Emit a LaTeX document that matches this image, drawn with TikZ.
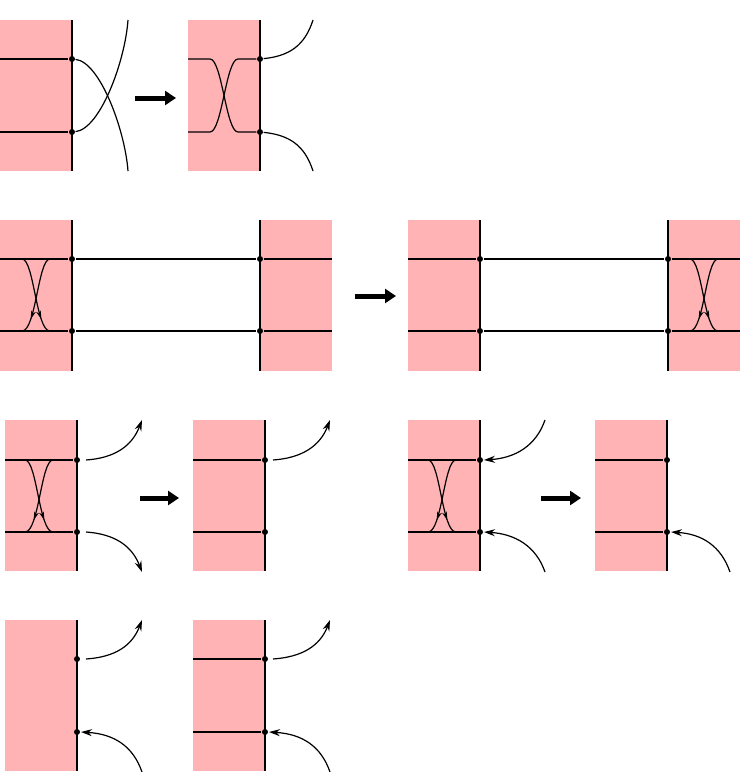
\documentclass[tikz,border=0pt]{standalone}
\usetikzlibrary{arrows.meta,decorations.markings}
\definecolor{strip}{RGB}{255,179,181}
\begin{document}
\begin{tikzpicture}[x=1pt,y=-1pt,line width=1.2pt]
\tikzstyle{band}=[fill=strip,draw=none]
\tikzstyle{dot}=[circle,fill=black,inner sep=0pt,minimum size=6pt]
\tikzstyle{move}=[-{Triangle[length=11pt,width=14pt]},line width=5pt]
\tikzstyle{tip}=[-{Stealth[length=11pt,width=7pt]}]
\tikzstyle{flow}=[postaction={decorate},decoration={markings,mark=at position 0.8 with {\arrow{Stealth[length=8pt,width=5pt]}}}]
\useasboundingbox (0,0) rectangle (748,772);
% row 1
\fill[band] (0,20) rectangle (72,171);
\draw (72,20) -- (72,171);
\node[dot] (a1) at (72,59) {};
\node[dot] (a2) at (72,132) {};
\draw (0,59) -- (a1); \draw (0,132) -- (a2);
\draw (a1) .. controls (100,62) and (125,130) .. (128,171);
\draw (a2) .. controls (100,129) and (125,62) .. (128,20);
\node (m1a) at (135,98) {}; \node (m1b) at (176,98) {};
\draw[move] (m1a.center) -- (m1b.center);
\fill[band] (188,20) rectangle (260,171);
\draw (260,20) -- (260,171);
\node[dot] (b1) at (260,59) {};
\node[dot] (b2) at (260,132) {};
\draw (188,59) -- (210,59) .. controls (222,59) and (226,132) .. (238,132) -- (b2);
\draw (188,132) -- (210,132) .. controls (222,132) and (226,59) .. (238,59) -- (b1);
\draw (b1) .. controls (290,56) and (305,45) .. (313,20);
\draw (b2) .. controls (290,135) and (305,146) .. (313,171);
% row 2
\fill[band] (0,220) rectangle (72,371);
\fill[band] (260,220) rectangle (332,371);
\draw (72,220) -- (72,371); \draw (260,220) -- (260,371);
\node[dot] (c1) at (72,259) {}; \node[dot] (c2) at (72,331) {};
\node[dot] (c3) at (260,259) {}; \node[dot] (c4) at (260,331) {};
\draw (0,259) -- (c1) -- (c3) -- (332,259);
\draw (0,331) -- (c2) -- (c4) -- (332,331);
\draw[flow] (22,259) .. controls (34,259) and (36,331) .. (50,331);
\draw[flow] (50,259) .. controls (38,259) and (36,331) .. (22,331);
\node (m2a) at (355,296) {}; \node (m2b) at (396,296) {};
\draw[move] (m2a.center) -- (m2b.center);
\fill[band] (408,220) rectangle (480,371);
\fill[band] (668,220) rectangle (740,371);
\draw (480,220) -- (480,371); \draw (668,220) -- (668,371);
\node[dot] (d1) at (480,259) {}; \node[dot] (d2) at (480,331) {};
\node[dot] (d3) at (668,259) {}; \node[dot] (d4) at (668,331) {};
\draw (408,259) -- (d1) -- (d3) -- (740,259);
\draw (408,331) -- (d2) -- (d4) -- (740,331);
\draw[flow] (690,259) .. controls (702,259) and (704,331) .. (718,331);
\draw[flow] (718,259) .. controls (706,259) and (704,331) .. (690,331);
% row 3
\fill[band] (5,420) rectangle (77,571);
\draw (77,420) -- (77,571);
\node[dot] (e1) at (77,460) {}; \node[dot] (e2) at (77,532) {};
\draw (5,460) -- (e1); \draw (5,532) -- (e2);
\draw[flow] (25,460) .. controls (37,460) and (39,532) .. (53,532);
\draw[flow] (53,460) .. controls (41,460) and (39,532) .. (25,532);
\coordinate (e3) at (86,460); \coordinate (e4) at (86,532);
\draw[tip] (e3) .. controls (115,458) and (132,446) .. (142,420);
\draw[tip] (e4) .. controls (115,534) and (132,546) .. (142,572);
\node (m3a) at (140,498) {}; \node (m3b) at (179,498) {};
\draw[move] (m3a.center) -- (m3b.center);
\fill[band] (193,420) rectangle (265,571);
\draw (265,420) -- (265,571);
\node[dot] (f1) at (265,460) {}; \node[dot] (f2) at (265,532) {};
\draw (193,460) -- (f1); \draw (193,532) -- (f2);
\coordinate (f3) at (273,460);
\draw[tip] (f3) .. controls (302,458) and (320,446) .. (330,420);
\fill[band] (408,420) rectangle (480,571);
\draw (480,420) -- (480,571);
\node[dot] (g1) at (480,460) {}; \node[dot] (g2) at (480,532) {};
\draw (408,460) -- (g1); \draw (408,532) -- (g2);
\draw[flow] (428,460) .. controls (440,460) and (442,532) .. (456,532);
\draw[flow] (456,460) .. controls (444,460) and (442,532) .. (428,532);
\coordinate (g3) at (545,420); \coordinate (g4) at (545,572);
\draw[tip] (g3) .. controls (536,446) and (515,458) .. (484,460);
\draw[tip] (g4) .. controls (536,546) and (515,534) .. (484,532);
\node (m4a) at (541,498) {}; \node (m4b) at (581,498) {};
\draw[move] (m4a.center) -- (m4b.center);
\fill[band] (595,420) rectangle (667,571);
\draw (667,420) -- (667,571);
\node[dot] (h1) at (667,460) {}; \node[dot] (h2) at (667,532) {};
\draw (595,460) -- (h1); \draw (595,532) -- (h2);
\coordinate (h3) at (730,572);
\draw[tip] (h3) .. controls (721,546) and (702,534) .. (671,532);
% row 4
\fill[band] (5,620) rectangle (77,771);
\draw (77,620) -- (77,771);
\node[dot] (i1) at (77,659) {}; \node[dot] (i2) at (77,732) {};
\coordinate (i3) at (86,659); \coordinate (i4) at (142,772);
\draw[tip] (i3) .. controls (115,657) and (132,646) .. (142,620);
\draw[tip] (i4) .. controls (133,746) and (114,734) .. (81,732);
\fill[band] (193,620) rectangle (265,771);
\draw (265,620) -- (265,771);
\node[dot] (j1) at (265,659) {}; \node[dot] (j2) at (265,732) {};
\draw (193,659) -- (j1); \draw (193,732) -- (j2);
\coordinate (j3) at (273,659); \coordinate (j4) at (330,772);
\draw[tip] (j3) .. controls (302,657) and (320,646) .. (330,620);
\draw[tip] (j4) .. controls (321,746) and (302,734) .. (269,732);
\end{tikzpicture}
\end{document}
